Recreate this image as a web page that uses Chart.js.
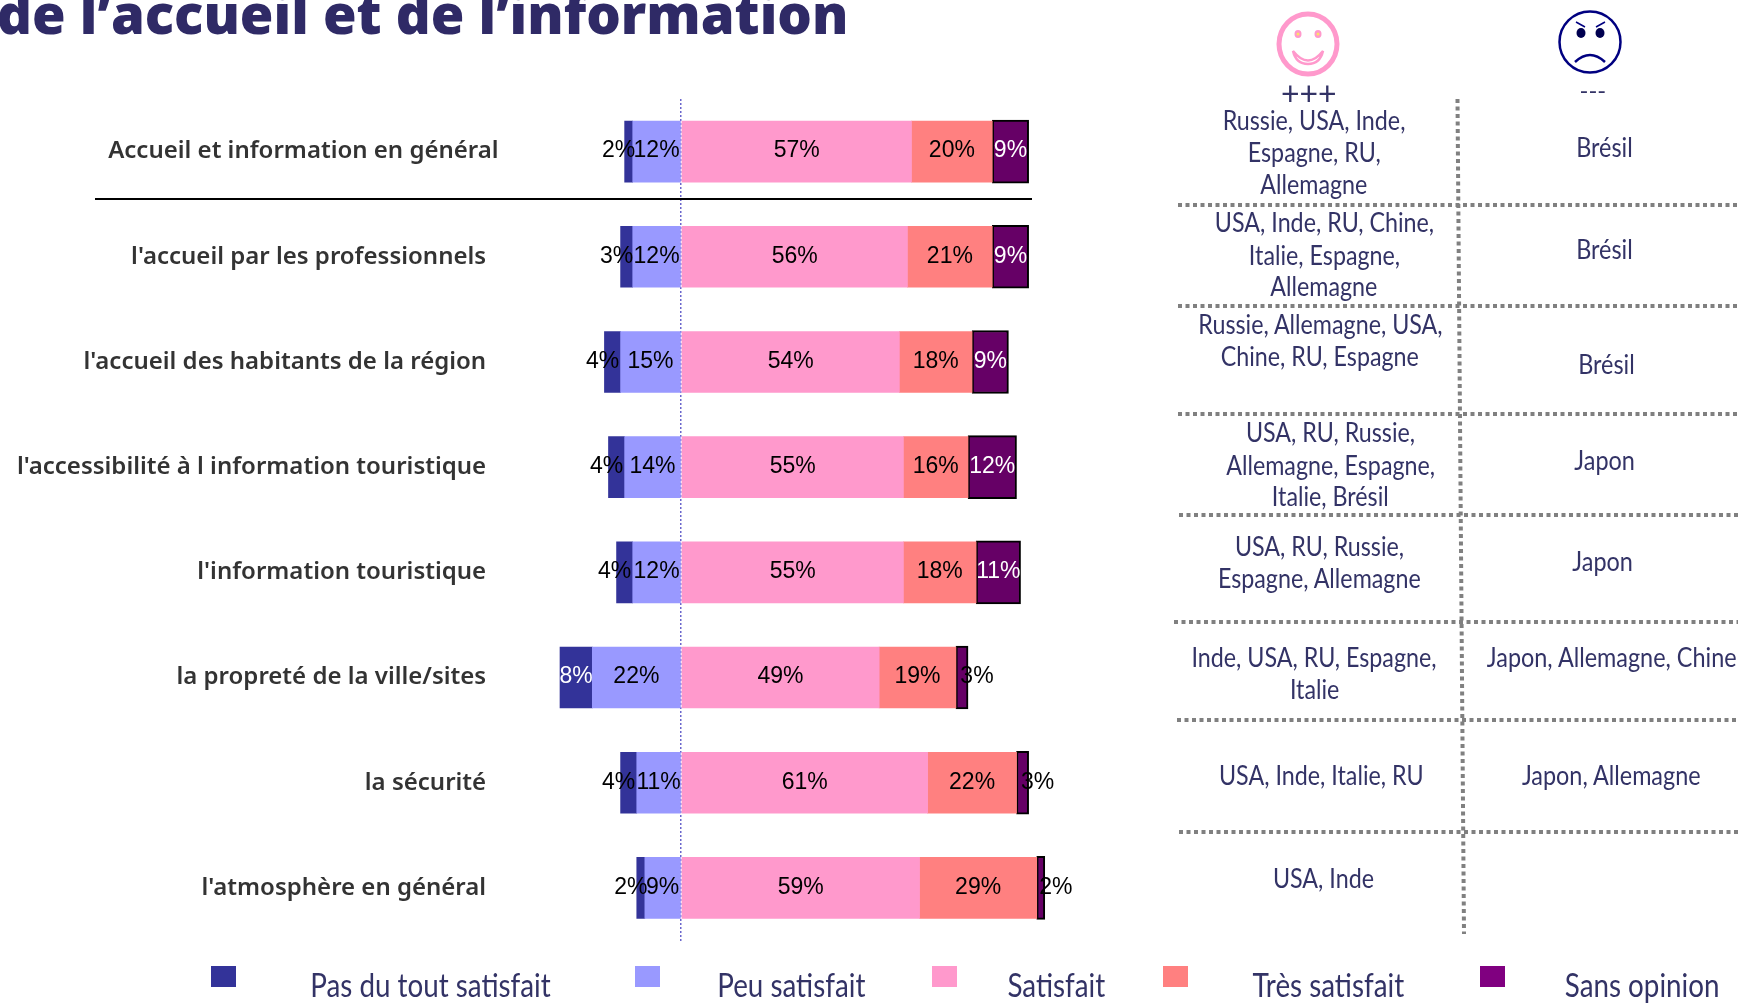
<!DOCTYPE html>
<html lang="fr"><head><meta charset="utf-8">
<script src="https://cdn.jsdelivr.net/npm/chart.js@4"></script>
<style>
html,body{margin:0;padding:0;background:#fff;width:1748px;height:1008px;overflow:hidden}
#c{position:absolute;left:0;top:0}
.t{position:absolute;white-space:nowrap;color:#333366;font-family:Lato,sans-serif;transform-origin:center;line-height:1}
#title{position:absolute;left:-3px;top:-24px;font:800 54.4px "Open Sans",sans-serif;color:#2f2a66;white-space:nowrap}
svg{position:absolute;left:0;top:0}
.sw{position:absolute;width:25px;height:21px;top:966px}
</style></head><body>
<canvas id="c" width="1748" height="1008"></canvas>
<div id="title">de l’accueil et de l’information</div>
<svg id="s" width="1748" height="1008"></svg>
<div id="o"></div>
<script>
const categories=["Accueil et information en général","l'accueil par les professionnels","l'accueil des habitants de la région","l'accessibilité à l information touristique","l'information touristique","la propreté de la ville/sites","la sécurité","l'atmosphère en général"];
const pasDuTout=[2,3,4,4,4,8,4,2];
const peu=[12,12,15,14,12,22,11,9];
const satisfait=[57,56,54,55,55,49,61,59];
const tres=[20,21,18,16,18,19,22,29];
const sansOpinion=[9,9,9,12,11,3,3,2];
const seriesNames=["Pas du tout satisfait","Peu satisfait","Satisfait","Très satisfait","Sans opinion"];
const seriesColors=["#333399","#9999FF","#FF99CC","#FF8080","#800080"];
const plus=[["Russie, USA, Inde,","Espagne, RU,","Allemagne"],["USA, Inde, RU, Chine,","Italie, Espagne,","Allemagne"],["Russie, Allemagne, USA,","Chine, RU, Espagne"],["USA, RU, Russie,","Allemagne, Espagne,","Italie, Brésil"],["USA, RU, Russie,","Espagne, Allemagne"],["Inde, USA, RU, Espagne,","Italie"],["USA, Inde, Italie, RU"],["USA, Inde"]];
const minus=["Brésil","Brésil","Brésil","Japon","Japon","Japon, Allemagne, Chine","Japon, Allemagne",""];

const ds=(label,data,bg,extra)=>Object.assign({label,data,backgroundColor:bg,borderWidth:0,barThickness:61},extra||{});
const labelPlugin={id:'valueLabels',afterDatasetsDraw(chart){
  const c=chart.ctx;c.save();c.font='23px "Liberation Sans",Arial,sans-serif';c.textAlign='center';c.textBaseline='middle';
  chart.data.datasets.forEach((d,i)=>{chart.getDatasetMeta(i).data.forEach((el,j)=>{
    const v=Math.abs(d.data[j]);let x=(el.x+el.base)/2;const y=el.y-0.5;
    if(d.label===seriesNames[0]&&v<=4)x-=10;
    if(d.label===seriesNames[4]&&v<=3)x+=15;
    const white=(d.label===seriesNames[0]&&v>=8)||(d.label===seriesNames[4]&&v>=9);
    c.fillStyle=white?'#fff':'#000';c.fillText(v+'%',x,y);
  });});c.restore();}};
new Chart(document.getElementById('c'),{type:'bar',plugins:[labelPlugin],data:{labels:categories.map((s,i)=>i?s+'\u00A0\u00A0':s),datasets:[
  ds(seriesNames[1],peu.map(v=>-v),seriesColors[1]),
  ds(seriesNames[0],pasDuTout.map(v=>-v),seriesColors[0]),
  ds(seriesNames[2],satisfait,seriesColors[2]),
  ds(seriesNames[3],tres,seriesColors[3]),
  ds(seriesNames[4],sansOpinion,'#660066',{borderColor:'#000',borderWidth:2,borderSkipped:false,barThickness:63})
]},options:{indexAxis:'y',responsive:false,animation:false,events:[],
  layout:{padding:{left:0,right:662.8,top:99,bottom:67.5}},
  plugins:{legend:{display:false},tooltip:{enabled:false}},
  scales:{
    x:{stacked:true,min:-40,max:100,ticks:{display:false,stepSize:20},border:{display:false,dash:[2,2]},grid:{drawTicks:false,lineWidth:1.5,color:c=>c.tick.value===0?'#6A66CC':'transparent'}},
    y:{stacked:true,afterFit(s){s.width=519.6},grid:{display:false},border:{display:false},ticks:{padding:13,color:'#333',autoSkip:false,font:{family:'"Noto Sans"',size:24,weight:'600'}}}
  }}});

// table and legend overlay
const o=document.getElementById('o');
function text(str,cx,cy,size,sx){const e=document.createElement('div');e.className='t';e.textContent=str;e.style.fontSize=size+'px';o.appendChild(e);
  const w=e.offsetWidth,h=e.offsetHeight;e.style.left=(cx-w/2)+'px';e.style.top=(cy-h/2)+'px';e.style.transform='scaleX('+sx+')';}
const colCx=[1314,1324,1320,1330,1319,1314,1321,1323];
const colY=[[120,152,184],[222,255,286],[324,356],[432,465,496],[546,578],[657,689],[775],[878]];
plus.forEach((ls,i)=>ls.forEach((l,j)=>text(l,colCx[i],colY[i][j],26,.895)));
const mCx=[1604,1604,1606,1604,1602,1611,1611];const mY=[147,249,364,460,561,657,775];
minus.forEach((l,i)=>{if(l)text(l,mCx[i],mY[i],26,.9)});
text('+++',1309,93,32,1);text('---',1593,90,24,1);
const swX=[211,635,932,1163,1480],lgX=[430,791,1056,1328,1642];
seriesNames.forEach((n,i)=>{const s=document.createElement('div');s.className='sw';s.style.left=swX[i]+'px';s.style.background=seriesColors[i];o.appendChild(s);text(n,lgX[i],985,32,.868);});

const S=document.getElementById('s');
const line=(x1,y1,x2,y2,st,w,da)=>`<line x1="${x1}" y1="${y1}" x2="${x2}" y2="${y2}" stroke="${st}" stroke-width="${w}"${da?` stroke-dasharray="${da}"`:''}/>`;
let h=line(95,199,1032,199,'#000',2);
[[1178,205],[1178,306],[1178,414],[1179,515],[1174,622],[1177,720],[1179,832]].forEach(a=>h+=line(a[0],a[1],1738,a[1],'#808080',4,'4 3.5'));
h+=line(1457.5,99,1464,934,'#808080',4,'4 3.5');
h+=`<ellipse cx="1308" cy="44" rx="29" ry="30" fill="#fff" stroke="#FF99CC" stroke-width="5"/>
<ellipse cx="1298" cy="34" rx="3.5" ry="4" fill="#FF99CC"/><ellipse cx="1318" cy="34" rx="3.5" ry="4" fill="#FF99CC"/>
<circle cx="1298" cy="34" r="1.5" fill="#FFE066"/><circle cx="1318" cy="34" r="1.5" fill="#FFE066"/>
<path d="M1293 51Q1308 70 1323 51Q1320 64 1308 64Q1296 64 1293 51Z" fill="#fff" stroke="#FF99CC" stroke-width="2.5"/>
<ellipse cx="1590" cy="42" rx="30.5" ry="30.5" fill="#fff" stroke="#000080" stroke-width="2.5"/>
<ellipse cx="1581" cy="33" rx="4.5" ry="5" fill="#000050"/><ellipse cx="1600" cy="33" rx="4.5" ry="5" fill="#000050"/>
<path d="M1576 22L1585 27M1605 22L1596 27" stroke="#000080" stroke-width="1.5"/>
<path d="M1575 62Q1590 48 1605 62" fill="none" stroke="#000080" stroke-width="2.5"/>`;
S.innerHTML=h;
</script></body></html>
